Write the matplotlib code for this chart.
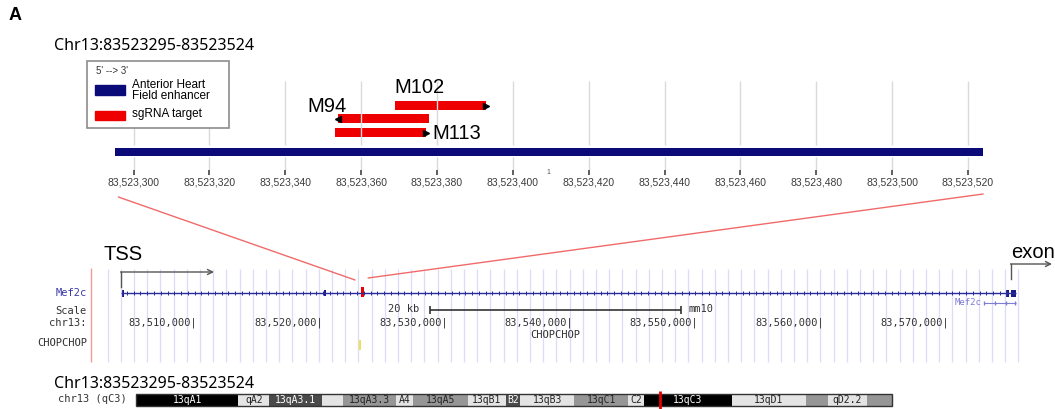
import numpy as np
import matplotlib.pyplot as plt
from matplotlib.patches import Rectangle, ConnectionPatch

W, H = 1055, 409

# enhancer and sgRNA targets (bp, chr13)
region_label = "Chr13:83523295-83523524"
enh_start, enh_end = 83523295, 83523524
sg_names = ['M102', 'M94', 'M113']
sg_start = [83523369, 83523354, 83523353]
sg_end = [83523393, 83523378, 83523377]
sg_strand = ['+', '-', '+']
top_ticks = [83523300, 83523320, 83523340, 83523360, 83523380, 83523400,
             83523420, 83523440, 83523460, 83523480, 83523500, 83523520]

# Mef2c browser view
gene_start, gene_end = 83504118, 83575563
gene_exons = [(83504118, 83504420), (83520383, 83520470),
              (83574800, 83574990), (83575150, 83575563)]
browser_ticks = [83510000, 83520000, 83530000, 83540000,
                 83550000, 83560000, 83570000]
scale_start, scale_len = 83528800, 20000

# chr13 ideogram (Mb)
band_start = [0.0, 16.27, 21.22, 29.64, 32.97, 41.47, 44.12, 52.83, 58.92,
              61.15, 69.83, 78.37, 80.83, 94.85, 106.72, 110.22, 116.44]
band_end = band_start[1:] + [120.42]
band_names = ['13qA1', 'qA2', '13qA3.1', '', '13qA3.3', 'A4', '13qA5', '13qB1',
              'B2', '13qB3', '13qC1', 'C2', '13qC3', '13qD1', '', 'qD2.2', '']
band_stain = ['gpos100', 'gneg', 'gpos75', 'gneg', 'gpos50', 'gneg', 'gpos50',
              'gneg', 'gpos75', 'gneg', 'gpos50', 'gneg', 'gpos100', 'gneg',
              'gpos50', 'gneg', 'gpos50']
stain_color = {'gneg': '#e4e4e4', 'gpos50': '#969696', 'gpos75': '#4a4a4a',
               'gpos100': '#000000'}

SANS = 'Liberation Sans'
MONO = 'DejaVu Sans Mono'
NAVY = '#0a0a78'
RED = '#ee0000'

fig = plt.figure(figsize=(W / 100, H / 100), dpi=100)


def px_axes(x0, y0, x1, y1):
    a = fig.add_axes([x0 / W, 1 - y1 / H, (x1 - x0) / W, (y1 - y0) / H])
    a.patch.set_visible(False)
    a.axis('off')
    return a


# overlay in pixel units for labels / annotations (drawn on top)
ov = px_axes(0, 0, W, H)
ov.set_xlim(0, W)
ov.set_ylim(H, 0)
ov.set_zorder(5)

ov.text(8.5, 15, 'A', fontsize=13, fontweight='bold', family=SANS, va='center')
ov.text(54, 45.5, region_label, fontsize=11.5, family='Noto Sans', va='center')
ov.text(54, 383.5, region_label, fontsize=11.5, family='Noto Sans', va='center')

# legend
ov.add_patch(Rectangle((87.2, 60.9), 141.3, 66.9, facecolor='white',
                       edgecolor='#8c8c8c', lw=1.2))
ov.text(96, 71, "5' --> 3'", fontsize=7, family=SANS, color='#333333', va='center')
ov.add_patch(Rectangle((95.3, 84.5), 29.7, 10.2, color=NAVY))
ov.text(131.8, 84.5, 'Anterior Heart', fontsize=8.5, family=SANS, va='center')
ov.text(131.8, 96.0, 'Field enhancer', fontsize=8.5, family=SANS, va='center')
ov.add_patch(Rectangle((95.3, 110.9), 29.7, 9.1, color=RED))
ov.text(131.8, 114.3, 'sgRNA target', fontsize=8.5, family=SANS, va='center')

# ---- top panel: enhancer zoom
ax_top = px_axes(80, 55, 1000, 200)
bp_px = 3.793
ax_top.set_xlim(83523300 + (80 - 133.5) / bp_px, 83523300 + (1000 - 133.5) / bp_px)
ax_top.set_ylim(200, 55)

ax_top.vlines(top_ticks, 81, 145, color='#dadada', lw=1)
ax_top.vlines(top_ticks, 157, 170, color='#dadada', lw=1)
ax_top.vlines(top_ticks, 170, 175, color='#444444', lw=1.2)
for t in top_ticks:
    ax_top.text(t, 182.6, f"{t:,}", fontsize=7.5, family=SANS, color='#3c3c3c',
                ha='center', va='center')

ax_top.barh(152, enh_end - enh_start, left=enh_start, height=8.5, color=NAVY)
ax_top.text((enh_start + enh_end) / 2, 172.6, '1', fontsize=5, family=SANS,
            color='#555555', ha='center', va='center')

rows = [105.6, 118.7, 132.7]
for name, s, e, st, y in zip(sg_names, sg_start, sg_end, sg_strand, rows):
    ax_top.barh(y, e - s, left=s, height=8.5, color=RED)
    if st == '+':
        ax_top.plot(e, y, marker='>', ms=4, color='black', clip_on=False)
    else:
        ax_top.plot(s, y, marker='<', ms=4, color='black', clip_on=False)

ax_top.annotate(sg_names[0], (sg_start[0], rows[0]), xytext=(-1, 18),
                textcoords='offset pixels', fontsize=14.5, family=SANS,
                ha='left', va='center')
ax_top.annotate(sg_names[1], (sg_start[1], rows[1]), xytext=(8, 12),
                textcoords='offset pixels', fontsize=14.5, family=SANS,
                ha='right', va='center')
ax_top.annotate(sg_names[2], (sg_end[2], rows[2]), xytext=(7, -1),
                textcoords='offset pixels', fontsize=14.5, family=SANS,
                ha='left', va='center')

# ---- browser panel
ax_br = px_axes(91, 250, 1025, 365)
kb_px = 12.53
ax_br.set_xlim(83510000 + (91 - 194.4) / kb_px * 1000,
               83510000 + (1025 - 194.4) / kb_px * 1000)
ax_br.set_ylim(365, 250)

guides = np.arange(83510000 + (107.7 - 194.4) / kb_px * 1000,
                   83510000 + (1021 - 194.4) / kb_px * 1000, 13.2 / kb_px * 1000)
ax_br.vlines(guides, 269, 362, color='#dcdcf8', lw=0.9)
ov.vlines(91, 268, 362, color='#f29a9a', lw=1)

ax_br.hlines(293, gene_start, gene_end, color='#2a2a9c', lw=1)
marks = np.arange(gene_start + 500, gene_end - 300, 540)
ax_br.plot(marks, np.full(len(marks), 293), ls='none', marker='|', ms=2.5,
           mew=0.7, color='#2a2a9c')
for i, (s, e) in enumerate(gene_exons):
    h = 7 if i != 1 else 6
    ax_br.bar(s, h, width=e - s, bottom=293 - h / 2, align='edge', color='#1a1a8a')
ax_br.text(83575563 - 4900, 302.5, 'Mef2c', fontsize=6.5, family=MONO,
           color='#7d7dd2', ha='left', va='center')
ax_br.hlines(302.5, 83573000, gene_end, color='#7d7dd2', lw=0.8)
ax_br.plot([83573000, 83573900, 83574800, 83575500], [302.5] * 4, ls='none',
           marker='|', ms=3, color='#7d7dd2')

enh_mid = (enh_start + enh_end) / 2
ax_br.bar(enh_mid, 9.5, width=270, bottom=287.3, color=RED)
sg_mid = (min(sg_start) + max(sg_end)) / 2
ax_br.vlines(sg_mid - 120, 340, 350, color='#eedc2a', lw=1.2)

ax_br.hlines(309.5, scale_start, scale_start + scale_len, color='#333333', lw=1.2)
ax_br.vlines([scale_start, scale_start + scale_len], 305.5, 313.5,
             color='#333333', lw=1.2)
ax_br.annotate('20 kb', (scale_start, 309.5), xytext=(-11, 0),
               textcoords='offset pixels', fontsize=7.5, family=MONO,
               color='#333333', ha='right', va='center')
ax_br.annotate('mm10', (scale_start + scale_len, 309.5), xytext=(8, 0),
               textcoords='offset pixels', fontsize=7.5, family=MONO,
               color='#333333', ha='left', va='center')
for p in browser_ticks:
    ax_br.annotate(f"{p:,}|", (p, 323), xytext=(3, 0), textcoords='offset pixels',
                   fontsize=7.5, family=MONO, color='#333333', ha='right',
                   va='center')

for lab, y, c in [('Mef2c', 293, '#3a3aa8'), ('Scale', 311, '#333333'),
                  ('chr13:', 322.5, '#333333'), ('CHOPCHOP', 343, '#333333')]:
    ov.text(87, y, lab, fontsize=7.5, family=MONO, color=c, ha='right', va='center')
ov.text(555.4, 334.7, 'CHOPCHOP', fontsize=7.5, family=MONO, color='#333333',
        ha='center', va='center')

# TSS / exon arrows
ov.text(104, 255, 'TSS', fontsize=14.5, family=SANS, va='center')
ov.plot([121, 121], [287, 272], color='#555555', lw=1)
ov.annotate('', xy=(214, 272), xytext=(120.5, 272),
            arrowprops=dict(arrowstyle='->', color='#555555', lw=1,
                            shrinkA=0, shrinkB=0, mutation_scale=9))
ov.text(1011, 252, 'exon', fontsize=14.5, family=SANS, va='center')
ov.plot([1011, 1011], [279, 264], color='#555555', lw=1)
ov.annotate('', xy=(1052, 264), xytext=(1010.5, 264),
            arrowprops=dict(arrowstyle='->', color='#555555', lw=1,
                            shrinkA=0, shrinkB=0, mutation_scale=9))

# zoom connection lines
for xa, ya, off, yb in [(enh_start + 1, 197, -590, 280), (enh_end, 194, 450, 278)]:
    con = ConnectionPatch(xyA=(xa, ya), coordsA=ax_top.transData,
                          xyB=(enh_mid + off, yb), coordsB=ax_br.transData,
                          color='#f06a6a', lw=1)
    fig.add_artist(con)

# ---- ideogram
ov.text(57.5, 399.5, 'chr13 (qC3)', fontsize=7.5, family=MONO, color='#333333',
        va='center')
ax_id = px_axes(136.2, 394, 892, 406)
ax_id.set_xlim(0, band_end[-1])
ax_id.set_ylim(0, 1)
for s, e, name, stain in zip(band_start, band_end, band_names, band_stain):
    col = stain_color[stain]
    ax_id.barh(0.5, e - s, left=s, height=1, color=col)
    if name:
        tc = 'white' if stain in ('gpos100', 'gpos75') else '#222222'
        ax_id.text((s + e) / 2, 0.5, name, fontsize=7, family=MONO, color=tc,
                   ha='center', va='center')
ax_id.add_patch(Rectangle((0, 0), band_end[-1], 1, fill=False, edgecolor='#333333',
                          lw=1, clip_on=False))
ax_id.vlines(enh_mid / 1e6, -0.25, 1.25, color='#e00000', lw=2, clip_on=False)

fig.savefig('out.png', dpi=100)
